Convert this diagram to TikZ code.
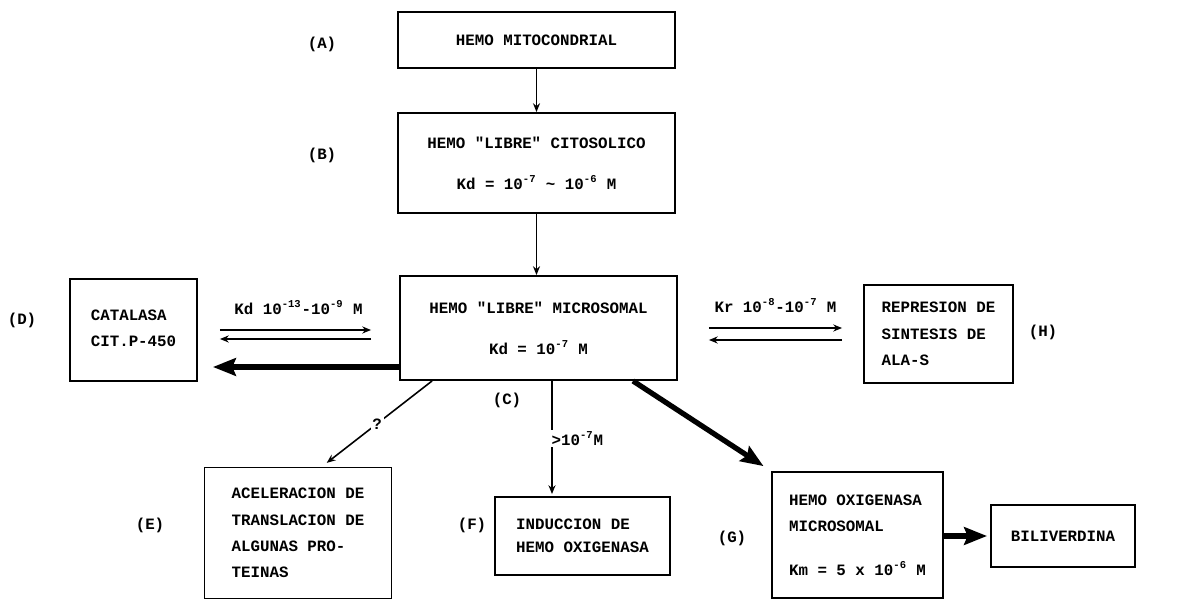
\documentclass[tikz,border=0pt]{standalone}
\usepackage{fontspec}
\setmonofont{Liberation Mono}
\usetikzlibrary{arrows.meta,positioning}

\begin{document}
\begin{tikzpicture}[x=0.02cm, y=-0.02cm,
    font=\ttfamily\bfseries\fontsize{9}{15}\selectfont,
    box/.style={draw, line width=1.1pt, inner sep=0pt},
    lbox/.style={box, align=left},
    cbox/.style={box, align=center},
    fine/.style={line width=0.9pt, -{Stealth[length=5pt, width=4pt]}},
    heavy/.style={line width=3pt, -{Stealth[length=13pt, width=10pt, inset=2pt]}},
    tag/.style={inner sep=0pt}]

    \useasboundingbox (0,0) rectangle (1188,601);

    % boxes
    \node[cbox, minimum width=5.54cm, minimum height=1.12cm] (A) at (536.5,40) {HEMO MITOCONDRIAL};
    \node[cbox, minimum width=5.54cm, minimum height=2.00cm] (B) at (536.5,163)
        {HEMO "LIBRE" CITOSOLICO\\[8.5pt]Kd = 10\textsuperscript{-7} \textasciitilde{} 10\textsuperscript{-6} M};
    \node[cbox, minimum width=5.54cm, minimum height=2.08cm] (C) at (538.5,328)
        {HEMO "LIBRE" MICROSOMAL\\[8.5pt]Kd = 10\textsuperscript{-7} M};
    \node[lbox, minimum width=2.54cm, minimum height=2.04cm] (D) at (133.5,330)
        {\raisebox{2pt}{CATALASA}\\\raisebox{2pt}{CIT.P-450}};
    \node[lbox, minimum width=2.98cm, minimum height=1.96cm] (H) at (938.5,334)
        {REPRESION DE\\SINTESIS DE\\ALA-S};
    \node[lbox, minimum width=3.74cm, minimum height=2.62cm] (E) at (298,533)
        {ACELERACION DE\\TRANSLACION DE\\ALGUNAS PRO-\\TEINAS};
    \node[lbox, minimum width=3.50cm, minimum height=1.56cm] (F) at (582.5,536)
        {INDUCCION DE\\[-2pt]HEMO OXIGENASA};
    \node[lbox, minimum width=3.42cm, minimum height=2.52cm] (G) at (857.5,535)
        {HEMO OXIGENASA\\MICROSOMAL\\[10pt]Km = 5 x 10\textsuperscript{-6} M};
    \node[cbox, minimum width=2.88cm, minimum height=1.24cm] (BV) at (1063,536) {BILIVERDINA};

    % letters beside the boxes
    \node[tag] (tA) at (322,44) {(A)};
    \node[tag] (tB) at (322,155) {(B)};
    \node[tag] (tC) at (507,400) {(C)};
    \node[tag] (tD) at (22,320) {(D)};
    \node[tag] (tE) at (150,525) {(E)};
    \node[tag] (tF) at (472,525) {(F)};
    \node[tag] (tG) at (732,538) {(G)};
    \node[tag] (tH) at (1043,332) {(H)};

    % down the middle
    \draw[fine] (A) -- (B);
    \draw[fine] (B.south) -- (B.south |- C.north);

    % C <-> D
    \draw[fine, shorten <=0.44cm, shorten >=0.56cm] (D.east) -- (D.east -| C.west)
        node[midway, above=5pt] {Kd 10\textsuperscript{-13}-10\textsuperscript{-9} M};
    \draw[fine, shorten <=0.56cm, shorten >=0.44cm] ([yshift=-0.18cm]D.east -| C.west) -- ([yshift=-0.18cm]D.east);
    \coordinate (cd) at ([yshift=-0.78cm]C.west);
    \draw[heavy, shorten >=0.3cm] (cd) -- (cd -| D.east);

    % C <-> H
    \draw[fine, shorten <=0.62cm, shorten >=0.42cm] (C.east) -- (C.east -| H.west)
        node[midway, above=5pt, xshift=0.1cm] {Kr 10\textsuperscript{-8}-10\textsuperscript{-7} M};
    \draw[fine, shorten <=0.42cm, shorten >=0.62cm] ([yshift=-0.24cm]C.east -| H.west) -- ([yshift=-0.24cm]C.east);

    % C to E, F, G
    \draw[fine, shorten >=0.12cm] ([xshift=0.66cm]C.south west) -- ([xshift=0.48cm]E.north)
        node[midway, fill=white, inner sep=1pt] {?};
    \coordinate (cf) at ([xshift=0.27cm]C.south);
    \draw[fine, shorten >=0.04cm] (cf) -- (cf |- F.north)
        node[pos=0.5, anchor=west, fill=white, inner sep=1pt, xshift=-0.06cm] {>10\textsuperscript{-7}M};
    \draw[heavy, shorten >=0.18cm] ([xshift=1.89cm]C.south) -- (G.north west);

    % G to biliverdina
    \draw[heavy, shorten >=0.06cm] (G.east |- BV.west) -- (BV.west);

\end{tikzpicture}
\end{document}
